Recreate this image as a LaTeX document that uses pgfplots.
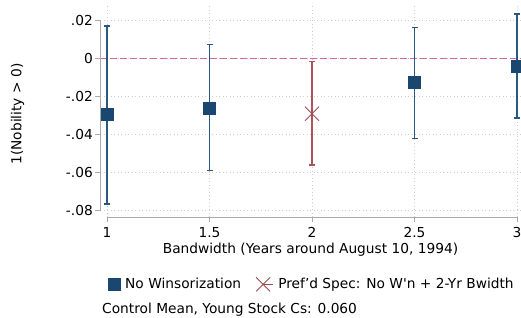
\documentclass[border=0pt]{standalone}
\usepackage{fontspec}
\setmainfont{DejaVu Sans}
\newfontfamily\nomap{DejaVu Sans}
\usepackage{pgfplots}
\usepackage{pgfplotstable}
\pgfplotsset{compat=1.18}
\definecolor{navy}{RGB}{26,71,111}
\definecolor{navybar}{RGB}{42,88,128}
\definecolor{cran}{RGB}{160,72,80}
\definecolor{cranbar}{RGB}{168,84,92}
\definecolor{pinkl}{RGB}{214,100,165}
\definecolor{gridc}{RGB}{205,205,205}
\definecolor{axc}{RGB}{170,170,170}

\pgfplotstableread{
x y lo hi
1   -0.0296 -0.0765 0.0171
1.5 -0.0263 -0.0590 0.0073
2.5 -0.0128 -0.0422 0.0162
3   -0.0040 -0.0312 0.0233
}\nowins
\pgfplotstableread{
x y lo hi
2 -0.0291 -0.0560 -0.0016
}\pref

\pgfplotsset{crosslegend/.style={legend image code/.code={\draw[#1] plot coordinates {(0bp,0bp)}; \path (0bp,0bp) -- (10bp,0bp);}}}

\begin{document}
\fontsize{13.8}{16}\selectfont
\begin{tikzpicture}
\useasboundingbox (0,0) rectangle (521bp,-318bp);
\clip (0,0) rectangle (521bp,-318bp);
\begin{axis}[
  at={(100bp,-217bp)}, anchor=south west,
  scale only axis, width=421bp, height=212bp,
  xmin=0.96585, xmax=3.0195, ymin=-0.08331, ymax=0.02798,
  axis line style={draw=none},
  tick pos=left, tick align=outside, major tick length=5bp,
  tick style={axc, line width=0.9bp},
  xtick={1,1.5,2,2.5,3}, xticklabels={1,1.5,2,2.5,3},
  ytick={-0.08,-0.06,-0.04,-0.02,0,0.02},
  yticklabels={-.08,-.06,-.04,-.02,0,.02},
  xticklabel style={inner sep=0pt, yshift=-5bp},
  yticklabel style={inner sep=0pt, xshift=-2bp},
  grid=major, grid style={gridc, dash pattern=on 0.9bp off 2.6bp, line width=0.9bp},
  xlabel={Bandwidth (Years around August 10, 1994)},
  xlabel style={at={(axis description cs:0.5,0)}, anchor=base, yshift=-36bp, inner sep=0pt},
  ylabel={1(Nobility > 0)},
  ylabel style={at={(axis description cs:-0.196,0.486)}, anchor=center, inner sep=0pt},
  clip=false,
  legend columns=2,
  legend cell align=left,
  legend style={at={(axis description cs:0.019,-0.3175)}, anchor=west, draw=none, fill=none, inner sep=0pt,
    nodes={inner sep=0pt},
    /tikz/every odd column/.append style={column sep=5bp},
    /tikz/every even column/.append style={column sep=15bp}},
]
\draw[pinkl, line width=0.9bp, dash pattern=on 7bp off 3bp] (axis cs:0.96585,0) -- (axis cs:3.0195,0);
\draw[axc, line width=1bp] (axis cs:0.96585,-0.08) -- (axis cs:0.96585,0.02);
\draw[axc, line width=1bp] (axis cs:1,-0.08331) -- (axis cs:3,-0.08331);

\addplot[only marks, mark=square*, mark size=6bp, navy, mark options={fill=navy, draw=navy},
  error bars/.cd, y dir=both, y explicit, error mark=|,
  error bar style={line width=1.8bp, navybar},
  error mark options={line width=1.6bp, mark size=3bp, navybar}]
  table[x=x, y=y, y error plus expr=\thisrow{hi}-\thisrow{y}, y error minus expr=\thisrow{y}-\thisrow{lo}] {\nowins};
\addlegendentry{No Winsorization}
\addplot[only marks, mark=x, mark size=9.9bp, cran, mark options={line width=0.9bp}, crosslegend,
  error bars/.cd, y dir=both, y explicit, error mark=|,
  error bar style={line width=1.8bp, cranbar},
  error mark options={line width=1.6bp, mark size=3bp, cranbar}]
  table[x=x, y=y, y error plus expr=\thisrow{hi}-\thisrow{y}, y error minus expr=\thisrow{y}-\thisrow{lo}] {\pref};
\addlegendentry{Pref'd Spec: No W{\nomap'}n + 2-Yr Bwidth}
\end{axis}
\node[anchor=base west, inner sep=0pt] at (102bp,-313bp) {Control Mean, Young Stock Cs: 0.060};
\end{tikzpicture}
\end{document}
